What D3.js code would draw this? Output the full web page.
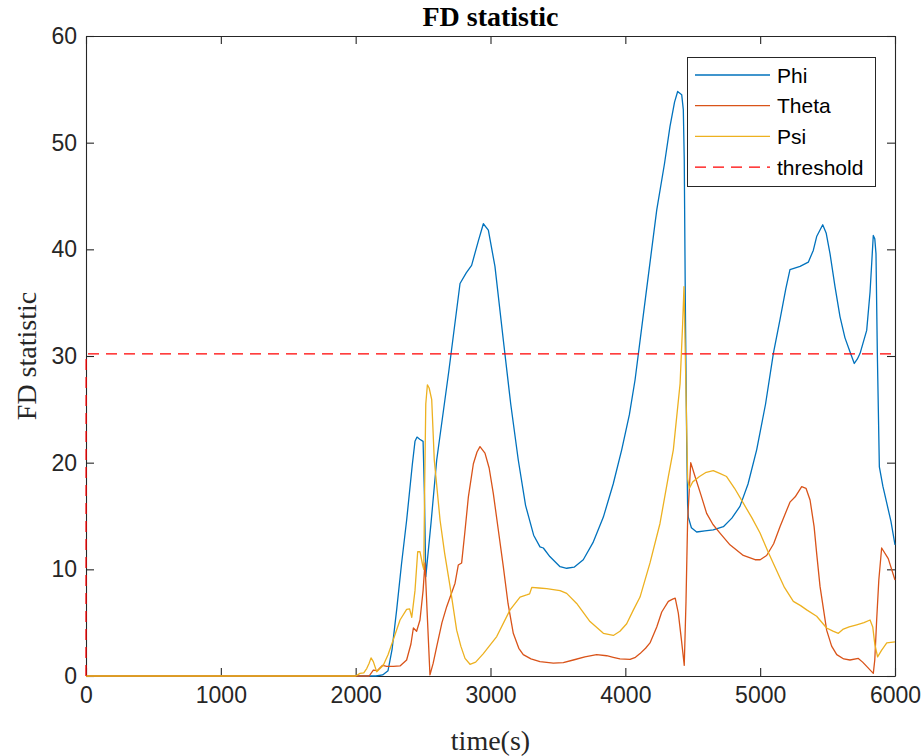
<!DOCTYPE html>
<html><head><meta charset="utf-8">
<script src="https://cdn.jsdelivr.net/npm/d3@7"></script>
<style>body{margin:0;background:#fff}svg{display:block}</style>
</head><body>
<script>
const xTicks = [0,1000,2000,3000,4000,5000,6000];
const yTicks = [0,10,20,30,40,50,60];

const phiT = [0,2150,2200,2240,2270,2304,2340,2378,2420,2440,2455,2475,2500,2510,2520,2560,2601,2690,2774,2820,2860,2910,2947,2984,3033,3095,3150,3206,3260,3320,3367,3392,3440,3516,3565,3620,3688,3760,3837,3910,3973,4030,4072,4150,4233,4290,4331,4365,4388,4418,4430,4437,4445,4455,4462,4467,4490,4529,4590,4652,4727,4790,4850,4910,4974,5040,5098,5147,5190,5221,5296,5357,5394,5419,5464,5490,5518,5555,5592,5629,5666,5698,5720,5741,5790,5815,5839,5850,5859,5869,5884,5910,5939,5970,6000];
const phiV = [0,0,0.1,0.5,2.5,6.2,10.5,14.6,19.8,22.0,22.4,22.2,22.0,17,9.3,14.5,20.25,28.5,36.8,37.8,38.5,40.8,42.4,41.8,38.4,31.5,25.5,20.25,16,13.2,12.1,12.0,11.2,10.25,10.1,10.2,10.9,12.5,14.9,18,21.2,24.5,27.75,35.5,43.7,48,51.5,53.8,54.8,54.5,53.1,48.4,35,22,16,14.9,13.9,13.5,13.6,13.7,14.0,14.8,15.9,18,21.2,25.5,30.25,33.4,36.3,38.1,38.4,38.8,39.9,41.2,42.3,41.5,39.6,36.5,33.7,31.7,30.4,29.3,29.7,30.25,32.4,36,41.3,41,39.6,30.25,19.6,17.8,16.2,14.5,12.3];

const thetaT = [0,2100,2131,2160,2200,2230,2280,2329,2378,2410,2428,2452,2477,2500,2514,2530,2551,2575,2601,2640,2675,2737,2761,2786,2810,2836,2873,2900,2922,2959,2990,3021,3060,3095,3130,3169,3210,3243,3300,3367,3466,3540,3614,3700,3787,3862,3910,3960,4035,4075,4109,4150,4183,4233,4270,4319,4351,4370,4393,4415,4437,4450,4462,4485,4517,4560,4603,4650,4702,4776,4875,4962,5000,5048,5100,5147,5221,5260,5308,5340,5370,5400,5419,5444,5493,5530,5568,5620,5666,5728,5760,5790,5839,5850,5864,5880,5901,5950,6000];
const thetaV = [0,0,0.56,0.5,1.0,0.9,0.9,0.94,1.5,3.0,4.5,4.2,5.25,8,10.6,6,0.1,1.2,2.75,5,6.5,8.7,10.4,10.6,13.5,16.8,19.9,21.0,21.5,20.9,19.5,17.1,13.5,10.25,6.8,4.0,2.6,2.0,1.6,1.35,1.2,1.25,1.5,1.8,2.0,1.9,1.75,1.6,1.55,1.75,2.1,2.6,3.1,4.6,6.0,7.0,7.2,7.3,5.9,3.5,1.0,7,14.6,20.0,18.7,17,15.25,14.2,13.4,12.3,11.3,10.9,10.9,11.3,12.4,14.0,16.3,16.8,17.75,17.6,16.5,14,11.5,8.4,4.3,2.8,2.0,1.6,1.5,1.65,1.3,0.9,0.25,1.5,5.25,9,12.0,11.0,9.0];

const psiT = [0,2000,2032,2060,2082,2100,2114,2131,2156,2205,2240,2279,2329,2378,2400,2416,2440,2460,2477,2495,2505,2512,2520,2532,2545,2564,2583,2626,2660,2700,2749,2780,2811,2848,2890,2947,3046,3145,3219,3268,3290,3306,3360,3417,3466,3516,3565,3639,3738,3837,3911,3960,4010,4060,4109,4183,4257,4319,4356,4406,4425,4435,4445,4462,4475,4500,4550,4600,4652,4700,4751,4810,4875,4940,4999,5060,5122,5180,5246,5300,5345,5419,5493,5540,5580,5617,5660,5716,5770,5815,5835,5850,5871,5900,5939,6000];
const psiV = [0,0,0.25,0.3,0.7,1.2,1.7,1.35,0.4,1.0,2.0,3.4,5.25,6.25,6.3,5.5,8,11.65,11.65,10.5,10.0,18,25.5,27.3,27,25.9,20.25,14.6,11.5,8.4,4.3,2.8,1.65,1.1,1.3,2.1,3.7,6.2,7.4,7.6,7.7,8.3,8.25,8.2,8.1,8.0,7.75,6.8,5.1,4.0,3.8,4.2,4.9,6.2,7.4,10.6,14.3,18.7,21.2,27.4,33,36.5,30,18.5,17.6,18.2,18.7,19.1,19.25,19.0,18.7,17.6,16.2,14.8,13.4,11.6,9.9,8.3,7.0,6.6,6.2,5.6,4.5,4.2,4.0,4.4,4.6,4.8,5.0,5.25,4.6,3.0,1.8,2.4,3.1,3.2];

const thrT = [0,1,6000];
const thrV = [0,30.2,30.2];

const seriesNames = ["Phi","Theta","Psi","threshold"];
const seriesColors = ["#0072BD","#D95319","#EDB120","#FF0000"];

const W = 924, H = 756;
const m = {l:86, r:29, t:36, b:80};
const svg = d3.select("body").append("svg").attr("width",W).attr("height",H);
const x = d3.scaleLinear().domain([0,6000]).range([m.l, W-m.r]);
const y = d3.scaleLinear().domain([0,60]).range([H-m.b, m.t]);
const axisColor = "#262626";

const line = d3.line().x(d=>x(d[0])).y(d=>y(d[1]));
const zip = (a,b)=>a.map((t,i)=>[t,b[i]]);
const data = [zip(phiT,phiV), zip(thetaT,thetaV), zip(psiT,psiV), zip(thrT,thrV)];

const fmt = d3.format("d");
function styleAxis(sel, showText){
  sel.select(".domain").attr("stroke",axisColor).attr("stroke-width",1.1);
  sel.selectAll(".tick line").attr("stroke",axisColor).attr("stroke-width",1.1);
  sel.selectAll(".tick text").attr("fill",axisColor)
     .style("font-family","Arial, 'Liberation Sans', sans-serif").style("font-size","23px");
  if(!showText) sel.selectAll(".tick text").remove();
}
const ax = svg.append("g").attr("transform",`translate(0,${H-m.b})`)
  .call(d3.axisBottom(x).tickValues(xTicks).tickFormat(fmt).tickSizeInner(-8).tickSizeOuter(0).tickPadding(11));
styleAxis(ax,true);
const axT = svg.append("g").attr("transform",`translate(0,${m.t})`)
  .call(d3.axisTop(x).tickValues(xTicks).tickFormat(fmt).tickSizeInner(-8).tickSizeOuter(0));
styleAxis(axT,false);
const ay = svg.append("g").attr("transform",`translate(${m.l},0)`)
  .call(d3.axisLeft(y).tickValues(yTicks).tickFormat(fmt).tickSizeInner(-8).tickSizeOuter(0).tickPadding(9));
styleAxis(ay,true);
const ayR = svg.append("g").attr("transform",`translate(${W-m.r},0)`)
  .call(d3.axisRight(y).tickValues(yTicks).tickFormat(fmt).tickSizeInner(-8).tickSizeOuter(0));
styleAxis(ayR,false);

const g = svg.append("g");
data.forEach((d,i)=>{
  g.append("path").datum(d).attr("d",line).attr("fill","none")
   .attr("stroke",seriesColors[i]).attr("stroke-width",1.3)
   .attr("stroke-linejoin","round")
   .attr("stroke-dasharray", i===3 ? "11,7" : null);
});

svg.append("text").attr("x",(m.l+W-m.r)/2).attr("y",26).attr("text-anchor","middle")
  .style("font-family","'Liberation Serif','Times New Roman',serif").style("font-weight","bold")
  .style("font-size","28px").attr("fill","#000").text("FD statistic");
svg.append("text").attr("x",(m.l+W-m.r)/2).attr("y",750).attr("text-anchor","middle")
  .style("font-family","'Liberation Serif','Times New Roman',serif")
  .style("font-size","28px").attr("fill",axisColor).text("time(s)");
svg.append("text").attr("transform",`translate(36,${(m.t+H-m.b)/2}) rotate(-90)`).attr("text-anchor","middle")
  .style("font-family","'Liberation Serif','Times New Roman',serif")
  .style("font-size","28px").attr("fill",axisColor).text("FD statistic");

// legend
const lg = svg.append("g");
lg.append("rect").attr("x",687.5).attr("y",57.5).attr("width",188).attr("height",129)
  .attr("fill","#fff").attr("stroke",axisColor).attr("stroke-width",1);
seriesNames.forEach((n,i)=>{
  const yy = 75 + i*30.7;
  lg.append("line").attr("x1",695).attr("x2",770).attr("y1",yy).attr("y2",yy)
    .attr("stroke",seriesColors[i]).attr("stroke-width",1.3)
    .attr("stroke-dasharray", i===3 ? "11,7" : null);
  lg.append("text").attr("x",777).attr("y",yy+7.5).style("font-family","Arial, 'Liberation Sans', sans-serif")
    .style("font-size","21px").attr("fill","#000").text(n);
});
</script>
</body></html>
